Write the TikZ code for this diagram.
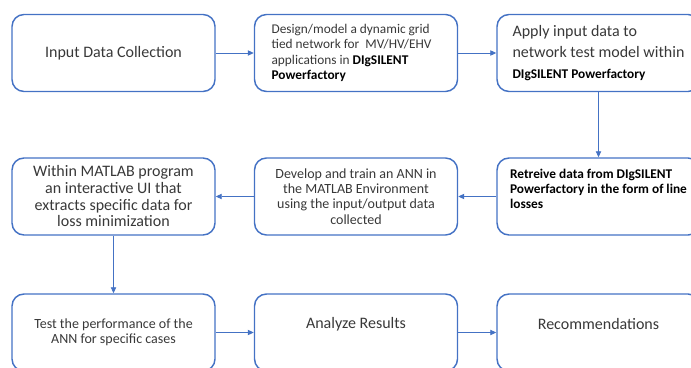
\documentclass[tikz,border=0pt]{standalone}
\usepackage{fontspec}
\setmainfont{Carlito}
\usepackage{tikz}
\usetikzlibrary{arrows.meta}
\definecolor{flowBlue}{HTML}{4472C4}
\definecolor{flowGrey}{HTML}{383838}
\newcommand{\darkbold}[1]{{\color{black}\bfseries #1}}
\tikzset{
	% rounded process boxes
	stepbox/.style={draw=flowBlue, line width=1.1pt, rounded corners=9pt,
		minimum width=152.25pt, minimum height=57.75pt, inner sep=4pt, text=flowGrey},
	bigtext/.style={font=\fontsize{12}{14.5}\selectfont},
	smalltext/.style={font=\fontsize{10.5}{11.5}\selectfont},
	% connectors between boxes
	flow/.style={draw=flowBlue, line width=0.7pt, -{Triangle[length=4.5pt, width=4pt]}},
}

\begin{document}
\begin{tikzpicture}[x=0.75pt, y=-0.75pt]
	\useasboundingbox (0,0) rectangle (691,367);
	\clip (0,0) rectangle (691,367);
	% top row
	\node[stepbox, bigtext] (input) at (113.5, 53) {Input Data Collection};
	\node[stepbox, font=\fontsize{10}{11.5}\selectfont, align=left] (design) at (356, 53) {Design/model a dynamic grid\hspace{8pt}\mbox{}\\ tied network for \ MV/HV/EHV\\ applications in \darkbold{DIgSILENT}\\ \darkbold{Powerfactory}};
	\node[stepbox, bigtext, align=left] (apply) at (598.5, 53) {Apply input data to\\[1.5pt] network test model within\\[1.5pt] {\fontsize{10}{12}\selectfont\darkbold{DIgSILENT Powerfactory}}};
	% middle row
	\node[stepbox, font=\fontsize{10}{11.5}\selectfont\bfseries, text=black, align=left] (retrieve) at (598.5, 196.5) {Retreive data from DIgSILENT\\ Powerfactory in the form of line\\ losses\\ \mbox{}};
	\node[stepbox, smalltext, align=center] (develop) at (356, 196.5) {Develop and train an ANN in\\ the MATLAB Environment\\ using the input/output data\\ collected};
	\node[stepbox, font=\fontsize{12}{12.5}\selectfont, align=center] (within) at (113.5, 196.5) {Within MATLAB program\\ an interactive UI that\\ extracts specific data for\\ loss minimization};
	% bottom row
	\node[stepbox, smalltext, align=center] (test) at (113.5, 332.5) {Test the performance of the\\ ANN for specific cases};
	\node[stepbox, bigtext] (analyze) at (356, 332.5) {\raisebox{6pt}[\height][\depth]{Analyze Results}};
	\node[stepbox, bigtext] (recom) at (598.5, 332.5) {\raisebox{6pt}[\height][\depth]{Recommendations}};

	\draw[flow] (input) -- (design);
	\draw[flow] (design) -- (apply);
	\draw[flow] (apply) -- (retrieve);
	\draw[flow] (retrieve) -- (develop);
	\draw[flow] (develop) -- (within);
	\draw[flow] (within) -- (test);
	\draw[flow] (test) -- (analyze);
	\draw[flow] (analyze) -- (recom);
\end{tikzpicture}
\end{document}
